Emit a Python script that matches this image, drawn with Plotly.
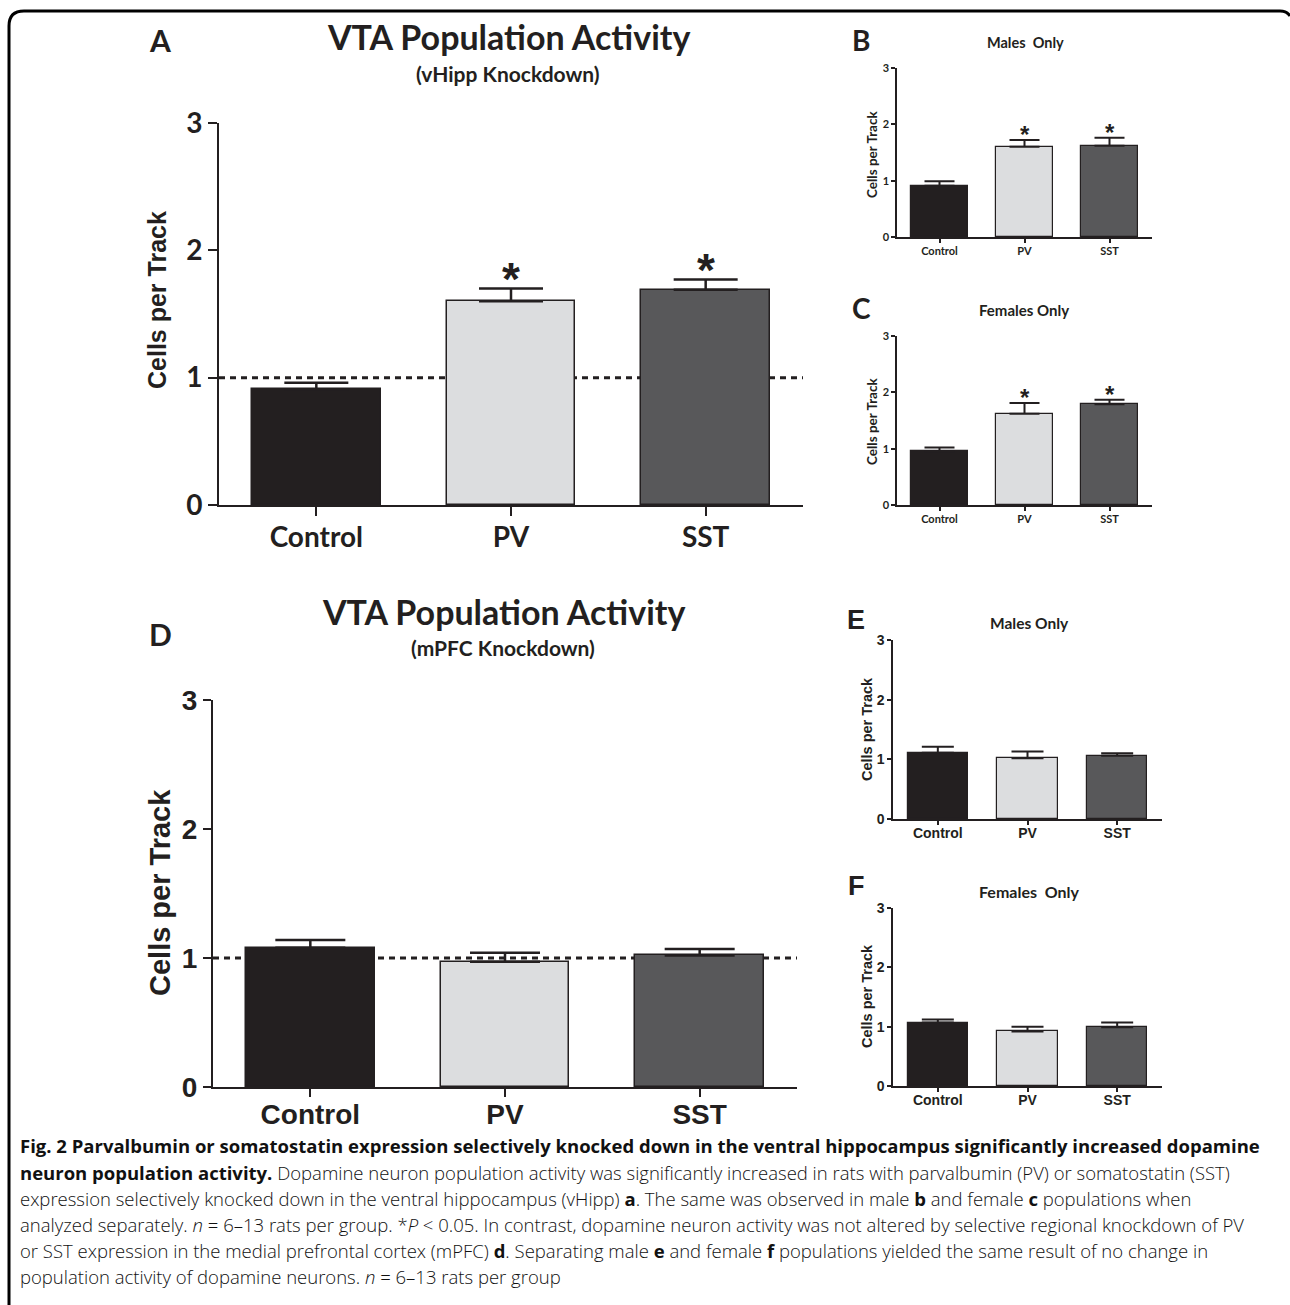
import plotly.graph_objects as go

W, H = 1290, 1305

categories = ["Control", "PV", "SST"]
bar_colors = ["#231f20", "#dcdddf", "#58585a"]

a_mean = [0.91, 1.60, 1.69]
a_sem = [0.05, 0.10, 0.08]
a_sig = [False, True, True]

b_mean = [0.91, 1.60, 1.62]
b_sem = [0.08, 0.12, 0.14]
b_sig = [False, True, True]

c_mean = [0.95, 1.62, 1.79]
c_sem = [0.07, 0.19, 0.08]
c_sig = [False, True, True]

d_mean = [1.08, 0.97, 1.02]
d_sem = [0.06, 0.07, 0.05]

e_mean = [1.11, 1.02, 1.06]
e_sem = [0.10, 0.11, 0.04]

f_mean = [1.07, 0.92, 0.99]
f_sem = [0.05, 0.08, 0.08]

y_ticks = [0, 1, 2, 3]


def px(x):
    return x / W


def py(y):
    return 1 - y / H


CAL = "Lato, 'Open Sans', sans-serif"
ARI = "'Liberation Sans', Arial, sans-serif"
INK = "#231f20"

fig = go.Figure()

panels = [
    dict(k="", mean=a_mean, sem=a_sem, sig=a_sig, x0=219, x1=803, y0=505, y3=123,
         tickfont=dict(family=CAL, size=28, color=INK, weight="bold"), so=-3,
         lw=2, tl=9, bw=0.66, cap=32, ew=2.5, mlw=1.5, star=46, starshift=-18, ref=True),
    dict(k="2", mean=b_mean, sem=b_sem, sig=b_sig, x0=897, x1=1152, y0=237, y3=68,
         tickfont=dict(family=CAL, size=11, color=INK, weight="bold"), so=-1,
         lw=1.5, tl=4, bw=0.68, cap=15, ew=2, mlw=1.2, star=24, starshift=-10, ref=False),
    dict(k="3", mean=c_mean, sem=c_sem, sig=c_sig, x0=897, x1=1152, y0=505, y3=336,
         tickfont=dict(family=CAL, size=11, color=INK, weight="bold"), so=-1,
         lw=1.5, tl=4, bw=0.68, cap=15, ew=2, mlw=1.2, star=24, starshift=-10, ref=False),
    dict(k="4", mean=d_mean, sem=d_sem, sig=[False] * 3, x0=213, x1=797, y0=1087, y3=700,
         tickfont=dict(family=ARI, size=28, color=INK, weight="bold"), so=-7,
         lw=2, tl=8, bw=0.66, cap=35, ew=2.5, mlw=1.5, star=46, starshift=-18, ref=True),
    dict(k="5", mean=e_mean, sem=e_sem, sig=[False] * 3, x0=893, x1=1162, y0=819, y3=640,
         tickfont=dict(family=ARI, size=14, color=INK, weight="bold"), so=-4,
         lw=1.5, tl=4, bw=0.67, cap=16, ew=2, mlw=1.2, star=24, starshift=-10, ref=False),
    dict(k="6", mean=f_mean, sem=f_sem, sig=[False] * 3, x0=893, x1=1162, y0=1086, y3=908,
         tickfont=dict(family=ARI, size=14, color=INK, weight="bold"), so=-4,
         lw=1.5, tl=4, bw=0.67, cap=16, ew=2, mlw=1.2, star=24, starshift=-10, ref=False),
]

annotations = []
shapes = []
layout = dict(
    template="none",
    width=W, height=H, autosize=False,
    margin=dict(l=0, r=0, t=0, b=0, pad=0, autoexpand=False),
    paper_bgcolor="white", plot_bgcolor="white", showlegend=False, bargap=0,
)

for p in panels:
    k = p["k"]
    xa = "x" + k
    ya = "y" + k
    fig.add_trace(go.Bar(
        x=categories, y=p["mean"], xaxis=xa, yaxis=ya, width=p["bw"],
        marker=dict(color=bar_colors, line=dict(color=INK, width=p["mlw"])),
        error_y=dict(type="data", symmetric=False, array=p["sem"], arrayminus=[0] * 3,
                     color=INK, thickness=p["ew"], width=p["cap"]),
        hoverinfo="skip",
    ))
    axis_common = dict(showline=True, linecolor=INK, linewidth=p["lw"], ticks="outside",
                       tickcolor=INK, tickwidth=p["lw"], ticklen=p["tl"], showgrid=False,
                       zeroline=False, tickfont=p["tickfont"], fixedrange=True,
                       automargin=False)
    layout["xaxis" + k] = dict(domain=[px(p["x0"]), px(p["x1"])], anchor=ya,
                               range=[-0.5, 2.5], type="category",
                               categoryorder="array", categoryarray=categories,
                               ticklabelstandoff=p["so"], **axis_common)
    layout["yaxis" + k] = dict(domain=[py(p["y0"]), py(p["y3"])], anchor=xa,
                               range=[0, 3], tickvals=y_ticks, **axis_common)
    if p["ref"]:
        shapes.append(dict(type="line", xref=xa + " domain", yref=ya, x0=0, x1=1.0,
                           y0=1, y1=1, layer="below",
                           line=dict(color=INK, width=3, dash="6px,5px")))
    for cat, m, s, sg in zip(categories, p["mean"], p["sem"], p["sig"]):
        if sg:
            annotations.append(dict(x=cat, y=m + s, xref=xa, yref=ya, text="*",
                                    showarrow=False, yanchor="bottom",
                                    yshift=p["starshift"],
                                    font=dict(family=ARI, size=p["star"], color=INK,
                                              weight="bold")))


def txt(x, y, text, size, family=CAL, angle=0, xanchor="center", bold=True, color=INK):
    annotations.append(dict(x=px(x), y=py(y), xref="paper", yref="paper", text=text,
                            showarrow=False, textangle=angle, xanchor=xanchor,
                            yanchor="middle",
                            font=dict(family=family, size=size, color=color,
                                      weight="bold" if bold else "normal")))


# titles
txt(508, 37, "VTA Population Activity", 34)
txt(508, 73, "(vHipp Knockdown)", 21)
txt(503, 611, "VTA Population Activity", 34)
txt(503, 647, "(mPFC Knockdown)", 21)
txt(1025, 42, "Males  Only", 14.5)
txt(1024, 310, "Females Only", 15)
txt(1029, 623, "Males Only", 15.5)
txt(1029, 891, "Females  Only", 16)

# panel letters
txt(160, 40, "A", 30)
txt(861, 40, "B", 28)
txt(861, 308, "C", 28)
txt(160, 634, "D", 30)
txt(856, 620, "E", 27, family=ARI)
txt(856, 886, "F", 27, family=ARI)

# y-axis titles
txt(157, 300, "Cells per Track", 25, family=ARI, angle=-90)
txt(160, 893, "Cells per Track", 29, family=ARI, angle=-90)
txt(872, 155, "Cells per Track", 13.5, angle=-90)
txt(872, 422, "Cells per Track", 13.5, angle=-90)
txt(867, 729, "Cells per Track", 14.5, family=ARI, angle=-90)
txt(867, 996, "Cells per Track", 14.5, family=ARI, angle=-90)

# caption
caption_lines = [
    "<b>Fig. 2 Parvalbumin or somatostatin expression selectively knocked down in the ventral hippocampus significantly increased dopamine</b>",
    "<b>neuron population activity.</b> Dopamine neuron population activity was significantly increased in rats with parvalbumin (PV) or somatostatin (SST)",
    "expression selectively knocked down in the ventral hippocampus (vHipp) <b>a</b>. The same was observed in male <b>b</b> and female <b>c</b> populations when",
    "analyzed separately. <i>n</i> = 6–13 rats per group. *<i>P</i> &lt; 0.05. In contrast, dopamine neuron activity was not altered by selective regional knockdown of PV",
    "or SST expression in the medial prefrontal cortex (mPFC) <b>d</b>. Separating male <b>e</b> and female <b>f</b> populations yielded the same result of no change in",
    "population activity of dopamine neurons. <i>n</i> = 6–13 rats per group",
]
cap_y = [1145, 1172, 1198, 1224, 1250, 1276]
for line, yy in zip(caption_lines, cap_y):
    annotations.append(dict(x=px(18), y=py(yy), xref="paper", yref="paper", text=line,
                            showarrow=False, xanchor="left", yanchor="middle",
                            font=dict(family="'Open Sans', sans-serif", size=18.5,
                                      color="#111111", weight=300)))


def P(x, y):
    return f"{px(x):.5f},{py(y):.5f}"


frame_path = (f"M {P(9, 1305)} L {P(9, 26)} Q {P(9, 11)} {P(24, 11)} "
              f"L {P(1280, 11)} Q {P(1287, 11)} {P(1290, 16)}")
shapes.append(dict(type="path", xref="paper", yref="paper", path=frame_path,
                   line=dict(color="black", width=3)))

layout["annotations"] = annotations
layout["shapes"] = shapes
fig.update_layout(**layout)
fig.write_html(
    "out.html",
    config={"displayModeBar": False, "responsive": False},
    post_script="document.body.style.margin='0';document.body.style.overflow='hidden';",
)
